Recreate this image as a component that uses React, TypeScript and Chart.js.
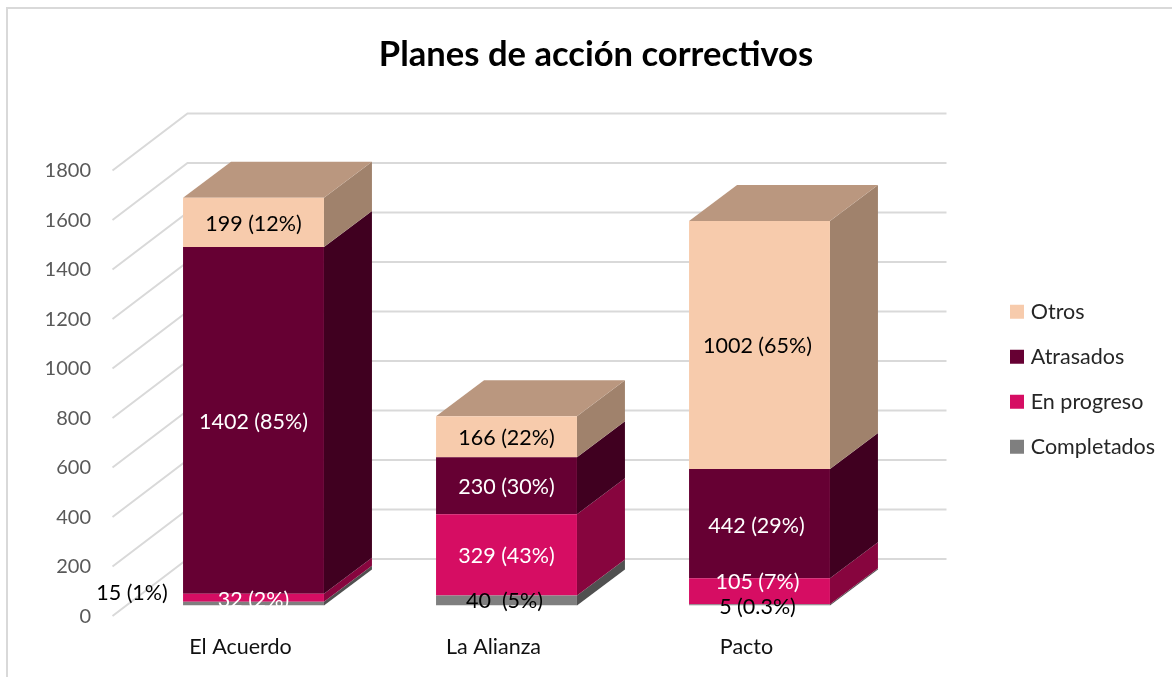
import React, { useEffect, useRef } from "react";
import { Chart, registerables } from "chart.js";

Chart.register(...registerables);

const FONT = "Lato, 'Open Sans', sans-serif";

const categories = ["El Acuerdo", "La Alianza", "Pacto"];
const completados = [15, 40, 5];
const enProgreso = [32, 329, 105];
const atrasados = [1402, 230, 442];
const otros = [199, 166, 1002];

const completadosLabels = ["15 (1%)", "40  (5%)", "5 (0.3%)"];
const enProgresoLabels = ["32 (2%)", "329 (43%)", "105 (7%)"];
const atrasadosLabels = ["1402 (85%)", "230 (30%)", "442 (29%)"];
const otrosLabels = ["199 (12%)", "166 (22%)", "1002 (65%)"];

// depth of the bars and of the back wall (pseudo-3D projection)
const BAR_DX = 48;
const BAR_DY = 36;
const WALL_DX = 60.5;
const WALL_DY = 46.5;
const FRONT_DX = 14.5;
const FRONT_DY = 10.5;

const styles = [
  { front: "#7F7F7F", side: "#505050", top: "#606060", text: "#000000" },
  { front: "#D60D63", side: "#87053E", top: "#A00A4A", text: "#FFFFFF" },
  { front: "#660033", side: "#400020", top: "#4D0026", text: "#FFFFFF" },
  { front: "#F7CBAC", side: "#A0826C", top: "#BA977F", text: "#000000" },
];

// manual label nudges as in the source chart: dataset -> category -> [dx, dy]
const labelNudge: Record<string, [number, number]> = {
  "0:0": [-121.5, -11],
  "1:0": [0, 2],
  "0:1": [-2, 1],
  "1:1": [0, 1],
  "2:1": [0, 1],
  "3:1": [0, 1],
  "0:2": [-2, 2.5],
  "1:2": [-2, -9],
  "2:2": [-3, 2],
  "3:0": [0, 2],
  "2:0": [0, 2],
  "3:2": [-2, 1],
};

const pseudo3d = {
  id: "pseudo3d",
  afterLayout(chart: any) {
    const t = chart.titleBlock;
    if (t) {
      t.left = 20;
      t.right = chart.width;
    }
    const l = chart.legend;
    if (l) {
      l.left = 990.5;
      l.right = chart.width;
      l.top = 277.5;
      l.bottom = chart.height;
    }
  },
  beforeDraw(chart: any) {
    const { ctx, width, height } = chart;
    ctx.save();
    ctx.strokeStyle = "#D9D9D9";
    ctx.lineWidth = 2;
    ctx.beginPath();
    ctx.moveTo(7, height);
    ctx.lineTo(7, 8);
    ctx.lineTo(width, 8);
    ctx.stroke();
    ctx.restore();
  },
  beforeDatasetsDraw(chart: any) {
    const { ctx, chartArea } = chart;
    const yScale = chart.scales.y;
    ctx.save();
    ctx.strokeStyle = "#D9D9D9";
    ctx.lineWidth = 2;
    yScale.ticks.forEach((tick: any) => {
      const y = yScale.getPixelForValue(tick.value);
      ctx.beginPath();
      ctx.moveTo(chartArea.left - FRONT_DX, y + FRONT_DY);
      ctx.lineTo(chartArea.left + WALL_DX, y - WALL_DY);
      ctx.lineTo(chartArea.right + WALL_DX, y - WALL_DY);
      ctx.stroke();
    });
    chart.data.datasets.forEach((_: any, di: number) => {
      const st = styles[di];
      chart.getDatasetMeta(di).data.forEach((bar: any) => {
        const r = bar.x + bar.width / 2;
        const l = bar.x - bar.width / 2;
        ctx.fillStyle = st.side;
        ctx.beginPath();
        ctx.moveTo(r, bar.y);
        ctx.lineTo(r + BAR_DX, bar.y - BAR_DY);
        ctx.lineTo(r + BAR_DX, bar.base - BAR_DY);
        ctx.lineTo(r, bar.base);
        ctx.closePath();
        ctx.fill();
        if (di === chart.data.datasets.length - 1) {
          ctx.fillStyle = st.top;
          ctx.beginPath();
          ctx.moveTo(l, bar.y);
          ctx.lineTo(l + BAR_DX, bar.y - BAR_DY);
          ctx.lineTo(r + BAR_DX, bar.y - BAR_DY);
          ctx.lineTo(r, bar.y);
          ctx.closePath();
          ctx.fill();
        }
      });
    });
    ctx.restore();
  },
  afterDatasetsDraw(chart: any) {
    const { ctx } = chart;
    ctx.save();
    ctx.font = `21.5px ${FONT}`;
    ctx.textAlign = "center";
    ctx.textBaseline = "middle";
    chart.data.datasets.forEach((ds: any, di: number) => {
      ctx.fillStyle = styles[di].text;
      chart.getDatasetMeta(di).data.forEach((bar: any, i: number) => {
        const [nx, ny] = labelNudge[`${di}:${i}`] || [0, 0];
        ctx.fillText(ds.valueLabels[i], bar.x + nx, (bar.y + bar.base) / 2 + ny);
      });
    });
    ctx.restore();
  },
};

export default function App() {
  const ref = useRef<HTMLCanvasElement>(null);
  useEffect(() => {
    const chart = new Chart(ref.current as HTMLCanvasElement, {
      type: "bar",
      data: {
        labels: categories,
        datasets: [
          { label: "Completados", data: completados, valueLabels: completadosLabels, backgroundColor: styles[0].front },
          { label: "En progreso", data: enProgreso, valueLabels: enProgresoLabels, backgroundColor: styles[1].front },
          { label: "Atrasados", data: atrasados, valueLabels: atrasadosLabels, backgroundColor: styles[2].front },
          { label: "Otros", data: otros, valueLabels: otrosLabels, backgroundColor: styles[3].front },
        ] as any,
      },
      plugins: [pseudo3d as any],
      options: {
        animation: false,
        responsive: false,
        layout: { padding: { left: 0, right: 186, top: 0, bottom: 0 } },
        datasets: { bar: { categoryPercentage: 1, barPercentage: 0.557, borderWidth: 0 } },
        scales: {
          x: {
            stacked: true,
            grid: { display: false, drawTicks: false },
            border: { display: false },
            afterFit: (s: any) => { s.height = 71.5; },
            ticks: {
              padding: 28.5,
              labelOffset: -13,
              maxRotation: 0,
              color: "#111111",
              font: { family: FONT, size: 21.5 },
            },
          },
          y: {
            stacked: true,
            min: 0,
            max: 1800,
            grid: { display: false, drawTicks: false },
            border: { display: false },
            afterFit: (s: any) => { s.width = 127; },
            ticks: {
              stepSize: 200,
              padding: 36,
              labelOffset: 11,
              color: "#595959",
              font: { family: FONT, size: 20 },
              callback: (v: any) => String(v),
            },
          },
        },
        plugins: {
          tooltip: { enabled: false },
          title: {
            display: true,
            text: "Planes de acción correctivos",
            color: "#000000",
            fullSize: false,
            font: { family: FONT, size: 34.6, weight: "bold", lineHeight: 1.2 },
            padding: { top: 34, bottom: 84.5 },
          },
          legend: {
            display: true,
            position: "right",
            align: "start",
            maxWidth: 100,
            reverse: true,
            labels: {
              boxWidth: 6,
              boxHeight: 6,
              padding: 23.5,
              color: "#262626",
              font: { family: FONT, size: 21.5 },
              generateLabels: (c: any) =>
                c.data.datasets.map((d: any, i: number) => ({
                  text: d.label,
                  fillStyle: d.backgroundColor,
                  strokeStyle: d.backgroundColor,
                  lineWidth: 8,
                  fontColor: "#262626",
                  hidden: false,
                  datasetIndex: i,
                })),
            },
          },
        },
      } as any,
    });
    return () => chart.destroy();
  }, []);
  return (
    <div style={{ position: "fixed", left: 0, top: 0, width: 1172, height: 677, background: "#fff" }}>
      <canvas ref={ref} width={1172} height={677} style={{ display: "block" }} />
    </div>
  );
}
